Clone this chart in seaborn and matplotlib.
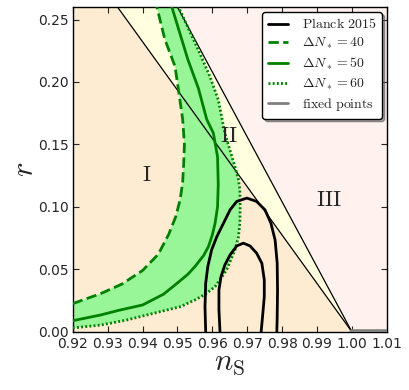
import matplotlib
matplotlib.use('Agg')
import matplotlib.pyplot as plt
import numpy as np
import seaborn as sns
from matplotlib.lines import Line2D

# slopes of the two straight boundaries r = k (1 - n_s)
slope_A = 3.87
slope_B = 5.2

# attractor curves
ns_40 = [0.9200, 0.9280, 0.9340, 0.9400, 0.9445, 0.9475, 0.9495, 0.9508, 0.9515, 0.9518,
         0.9520, 0.9515, 0.9507, 0.9493, 0.9464, 0.9441]
r_40 = [0.0225, 0.0305, 0.0380, 0.0490, 0.0620, 0.0780, 0.0920, 0.1060, 0.1200, 0.1350,
        0.1500, 0.1700, 0.1858, 0.2125, 0.2340, 0.2600]

ns_50 = [0.9200, 0.9280, 0.9330, 0.9400, 0.9460, 0.9500, 0.9530, 0.9550, 0.9575, 0.9589,
         0.9600, 0.9608, 0.9615, 0.9617, 0.9615, 0.9603, 0.9584, 0.9560, 0.9530, 0.9484]
r_50 = [0.0088, 0.0134, 0.0170, 0.0214, 0.0300, 0.0390, 0.0460, 0.0521, 0.0610, 0.0682,
        0.0775, 0.0869, 0.1000, 0.1180, 0.1400, 0.1590, 0.1700, 0.1950, 0.2179, 0.2600]

ns_60 = [0.9200, 0.9280, 0.9355, 0.9450, 0.9508, 0.9550, 0.9580, 0.9608, 0.9641, 0.9665,
         0.9675, 0.9679, 0.9680, 0.9679, 0.9675, 0.9665, 0.9636, 0.9617, 0.9593, 0.9555, 0.9503]
r_60 = [0.0030, 0.0053, 0.0094, 0.0160, 0.0200, 0.0254, 0.0300, 0.0361, 0.0495, 0.0655,
        0.0760, 0.0869, 0.1000, 0.1136, 0.1216, 0.1320, 0.1590, 0.1858, 0.2045, 0.2286, 0.2600]

# Planck 2015 contours (95% and 68%)
ns_p95 = [0.9581, 0.9579, 0.9581, 0.9587, 0.9598, 0.9613, 0.9632, 0.9651, 0.9670, 0.9699,
          0.9727, 0.9751, 0.9768, 0.9780, 0.9786, 0.9787, 0.9786, 0.9785]
r_p95 = [0.0000, 0.0200, 0.0388, 0.0521, 0.0655, 0.0762, 0.0869, 0.0976, 0.1043, 0.1070,
         0.1043, 0.0976, 0.0869, 0.0735, 0.0548, 0.0334, 0.0120, 0.0000]
ns_p68 = [0.9622, 0.9619, 0.9619, 0.9625, 0.9636, 0.9651, 0.9670, 0.9689, 0.9708, 0.9727,
          0.9742, 0.9749, 0.9749, 0.9744, 0.9740]
r_p68 = [0.0000, 0.0174, 0.0334, 0.0441, 0.0535, 0.0615, 0.0687, 0.0709, 0.0687, 0.0629,
         0.0548, 0.0415, 0.0281, 0.0120, 0.0000]

# fixed points along r = 0
ns_fixed = [1.0, 1.01]
r_fixed = [0.0, 0.0]

region_labels = ['I', 'II', 'III']
region_ns = [0.9412, 0.9646, 0.9935]
region_r = [0.1257, 0.1564, 0.1056]

sns.set_style('ticks', {'xtick.direction': 'in', 'ytick.direction': 'in'})
plt.rcParams['mathtext.fontset'] = 'cm'
plt.rcParams['font.family'] = ['DejaVu Sans']

fig = plt.figure(figsize=(4.09, 3.90), dpi=100)
ax = fig.add_axes([0.178, 0.1495, 0.7675, 0.8325])

# background regions
ax.set_facecolor('#fef1ee')
ns_line = np.array([0.90, 1.0])
ax.fill_between(ns_line, 0, slope_B * (1 - ns_line), color='#ffffe0', lw=0, zorder=0)
ax.fill_between(ns_line, 0, slope_A * (1 - ns_line), color='#fdebd2', lw=0, zorder=0)

# green band between 40 and 60 e-folds
ax.fill(ns_40 + ns_60[::-1], r_40 + r_60[::-1], color='#98f598', lw=0, zorder=1)

ax.plot(ns_line, slope_A * (1 - ns_line), color='black', lw=0.9, zorder=2)
ax.plot(ns_line, slope_B * (1 - ns_line), color='black', lw=0.9, zorder=2)

sns.lineplot(x=ns_40, y=r_40, sort=False, estimator=None, color='green', lw=2,
             dashes=False, linestyle='--', ax=ax, zorder=3)
sns.lineplot(x=ns_50, y=r_50, sort=False, estimator=None, color='green', lw=2,
             ax=ax, zorder=3)
line60 = sns.lineplot(x=ns_60, y=r_60, sort=False, estimator=None, color='green', lw=2,
                      ax=ax, zorder=3).lines[-1]
line60.set_dashes((0.7, 0.8))

for xs, ys in [(ns_p95, r_p95), (ns_p68, r_p68)]:
    sns.lineplot(x=xs, y=ys, sort=False, estimator=None, color='black', lw=2, ax=ax,
                 zorder=4, solid_joinstyle='round')

ax.plot(ns_fixed, r_fixed, color='gray', lw=4, zorder=5)

for lab, x, y in zip(region_labels, region_ns, region_r):
    ax.text(x, y, r'$\mathrm{%s}$' % lab, fontsize=16, ha='center', va='center', zorder=6)

ax.set_xlim(0.92, 1.01)
ax.set_ylim(0.0, 0.26)
ax.set_xticks(np.arange(0.92, 1.0101, 0.01))
ax.set_yticks(np.arange(0.0, 0.2501, 0.05))
ax.xaxis.set_major_formatter(matplotlib.ticker.FormatStrFormatter('%.2f'))
ax.yaxis.set_major_formatter(matplotlib.ticker.FormatStrFormatter('%.2f'))
ax.tick_params(top=True, right=True, direction='in', labelsize=10, length=4, width=0.8)
ax.tick_params(axis='x', pad=4)
ax.tick_params(axis='y', pad=3)
for s in ax.spines.values():
    s.set_linewidth(1)
    s.set_color('black')

ax.set_xlabel(r'$n_{\rm S}$', fontsize=22, labelpad=-2)
ax.set_ylabel(r'$r$', fontsize=22, labelpad=-1)

handles = [
    Line2D([], [], color='black', lw=2),
    Line2D([], [], color='green', lw=2, linestyle='--'),
    Line2D([], [], color='green', lw=2),
    Line2D([], [], color='green', lw=2, dashes=(0.7, 0.8)),
    Line2D([], [], color='gray', lw=2),
]
labels = [r'$\mathrm{Planck\ 2015}$', r'$\Delta N_*=40$', r'$\Delta N_*=50$',
          r'$\Delta N_*=60$', r'$\mathrm{fixed\ points}$']
leg = ax.legend(handles, labels, loc='upper right', fontsize=10, fancybox=True, shadow=True,
                framealpha=1, edgecolor='black', handlelength=1.45, handletextpad=1.0,
                borderpad=0.4, labelspacing=0.32, borderaxespad=0.35)
leg.get_frame().set_linewidth(1)
leg.set_zorder(10)

fig.savefig('out.png', dpi=100)
